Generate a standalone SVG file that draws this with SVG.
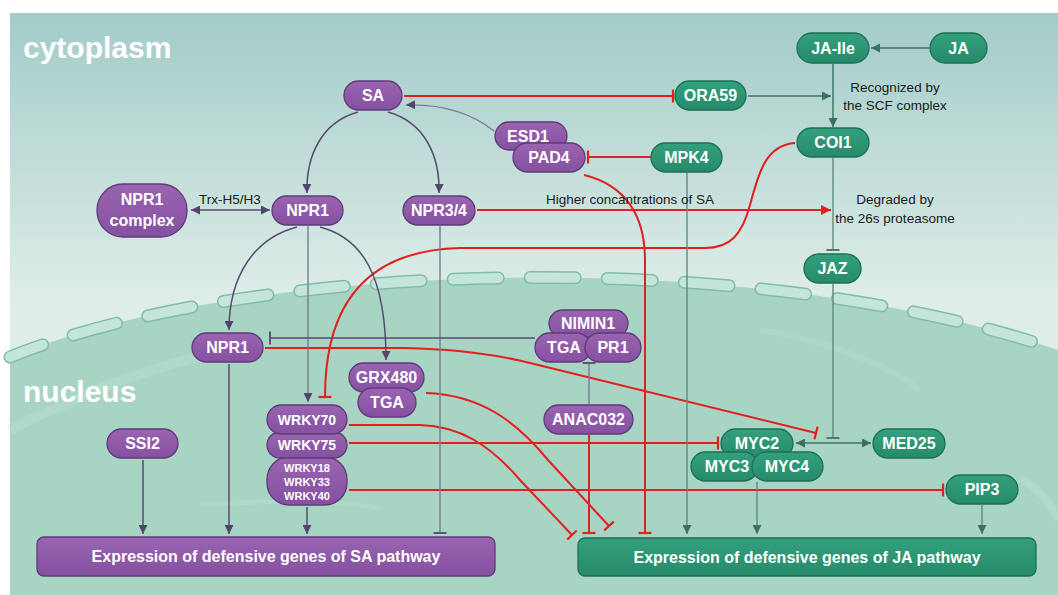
<svg xmlns="http://www.w3.org/2000/svg" width="1058" height="595" viewBox="0 0 1058 595">
<defs>
<linearGradient id="cyto" x1="0" y1="13" x2="0" y2="300" gradientUnits="userSpaceOnUse">
<stop offset="0" stop-color="#a3ccc8"/><stop offset="1" stop-color="#deede9"/>
</linearGradient>
<linearGradient id="gP" x1="0" y1="0" x2="0" y2="1">
<stop offset="0" stop-color="#9a64b1"/><stop offset="1" stop-color="#8450a0"/>
</linearGradient>
<linearGradient id="gG" x1="0" y1="0" x2="0" y2="1">
<stop offset="0" stop-color="#33a07e"/><stop offset="1" stop-color="#268a6b"/>
</linearGradient>
<marker id="aP" viewBox="0 0 10 10" refX="10" refY="5" markerWidth="9" markerHeight="9" markerUnits="userSpaceOnUse" orient="auto-start-reverse"><path d="M0,0 L10,5 L0,10 z" fill="#54446e"/></marker>
<marker id="aG" viewBox="0 0 10 10" refX="10" refY="5" markerWidth="9" markerHeight="9" markerUnits="userSpaceOnUse" orient="auto-start-reverse"><path d="M0,0 L10,5 L0,10 z" fill="#3b7163"/></marker>
<marker id="aR" viewBox="0 0 10 10" refX="10" refY="5" markerWidth="10" markerHeight="10" markerUnits="userSpaceOnUse" orient="auto"><path d="M0,0 L10,5 L0,10 z" fill="#e2201f"/></marker>
<marker id="tR" viewBox="-2 -8 4 16" refX="0" refY="0" markerWidth="4" markerHeight="16" markerUnits="userSpaceOnUse" orient="auto"><path d="M0,-6.5 V6.5" stroke="#e2201f" stroke-width="2.2"/></marker>
<marker id="tP" viewBox="-2 -8 4 16" refX="0" refY="0" markerWidth="4" markerHeight="16" markerUnits="userSpaceOnUse" orient="auto"><path d="M0,-6.5 V6.5" stroke="#5e5478" stroke-width="2"/></marker>
<marker id="tG" viewBox="-2 -8 4 16" refX="0" refY="0" markerWidth="4" markerHeight="16" markerUnits="userSpaceOnUse" orient="auto"><path d="M0,-6.5 V6.5" stroke="#4c7a6e" stroke-width="2"/></marker>
</defs>
<style>
.np{fill:url(#gP);stroke:#5f3a78;stroke-width:1.3}
.ng{fill:url(#gG);stroke:#1d6f56;stroke-width:1.3}
.bar{stroke-width:1.3}
.t{font-family:"Liberation Sans",Arial,sans-serif;font-weight:bold;fill:#ffffff;text-anchor:middle;font-size:16px}
.ts{font-size:14px}
.tx{font-size:11px}
.lb{font-family:"Liberation Sans",Arial,sans-serif;fill:#1a1a1a;font-size:13.5px;text-anchor:middle}
.big{font-family:"Liberation Sans",Arial,sans-serif;font-weight:bold;fill:#ffffff;font-size:30px}
.r{fill:none;stroke:#e2201f;stroke-width:2}
.p{fill:none;stroke:#584a73;stroke-width:1.5}
.pl{fill:none;stroke:#7d7a94;stroke-width:1.4}
.g{fill:none;stroke:#3f7467;stroke-width:1.5}
.gl{fill:none;stroke:#5f8a80;stroke-width:1.4}
</style>

<!-- background -->
<rect x="0" y="0" width="1058" height="595" fill="#ffffff"/>
<rect x="10" y="13" width="1048" height="582" fill="url(#cyto)"/>
<path d="M10 357 C250 260 750 245 1058 350 L1058 595 L10 595 Z" fill="#a8d4c4"/>
<path d="M10 430 C80 395 150 365 230 350" fill="none" stroke="#b9ddd0" stroke-width="10" opacity="0.5"/>
<path d="M200 505 C260 500 330 500 380 508" fill="none" stroke="#b9ddd0" stroke-width="5" opacity="0.5"/>
<path d="M1020 478 C1040 490 1052 505 1058 520" fill="none" stroke="#b9ddd0" stroke-width="8" opacity="0.6"/>
<path d="M760 330 C820 340 880 360 920 390" fill="none" stroke="#b6dccf" stroke-width="6" opacity="0.4"/>
<path d="M10 357 C250 260 750 245 1058 350" fill="none" stroke="#80bca9" stroke-width="13" stroke-linecap="round" stroke-dasharray="45 32" stroke-dashoffset="10"/>
<path d="M10 357 C250 260 750 245 1058 350" fill="none" stroke="#c4e5da" stroke-width="10" stroke-linecap="round" stroke-dasharray="45 32" stroke-dashoffset="10"/>

<text class="big" x="23" y="58">cytoplasm</text>
<text class="big" x="23" y="402">nucleus</text>

<!-- connectors -->
<g id="connectors">
<path class="r" d="M404 96 H673" marker-end="url(#tR)"/>
<path class="r" d="M477 210 H831" marker-end="url(#aR)"/>
<path class="r" d="M651 157 H588" marker-end="url(#tR)"/>
<path class="r" d="M584 175 C625 185 645 215 645 260 V533" marker-end="url(#tR)"/>
<path class="r" d="M795 143 C765 145 758 175 750 205 C742 235 730 248 705 248 H460 C380 250 325 290 325 397" marker-end="url(#tR)"/>
<path class="r" d="M265 348 H405 C450 349 490 353 530 363 L816 433" marker-end="url(#tR)"/>
<path class="r" d="M426 393 C480 395 515 420 548 460 L609 526" marker-end="url(#tR)"/>
<path class="r" d="M349 425 H420 C460 426 490 445 520 480 L572 535" marker-end="url(#tR)"/>
<path class="r" d="M349 443 H718" marker-end="url(#tR)"/>
<path class="r" d="M349 490 H943" marker-end="url(#tR)"/>
<path class="r" d="M589 435 V533" marker-end="url(#tR)"/>

<path class="p" d="M358 112 C322 122 306 155 307 193" marker-end="url(#aP)"/>
<path class="p" d="M388 112 C424 122 440 155 439 193" marker-end="url(#aP)"/>
<path class="p" d="M191 210 H270" marker-start="url(#aP)" marker-end="url(#aP)"/>
<path class="pl" d="M494 131 C470 112 440 104 406 105" marker-end="url(#aP)"/>
<path class="p" d="M297 227 C255 238 229 275 229 330" marker-end="url(#aP)"/>
<path class="pl" d="M308 226 V402" marker-end="url(#aP)"/>
<path class="p" d="M320 227 C362 238 386 275 386 360" marker-end="url(#aP)"/>
<path class="pl" d="M440 226 V533" marker-end="url(#tP)"/>
<path class="p" d="M535 338 H270" marker-end="url(#tP)"/>
<path class="pl" d="M589 404 V363" marker-end="url(#tP)"/>
<path class="p" d="M143 460 V534" marker-end="url(#aP)"/>
<path class="p" d="M229 364 V534" marker-end="url(#aP)"/>
<path class="p" d="M307 507 V534" marker-end="url(#aP)"/>

<path class="g" d="M929 48 H871" marker-end="url(#aG)"/>
<path class="g" d="M833 64 V127" marker-end="url(#aG)"/>
<path class="g" d="M748 96 H831" marker-end="url(#aG)"/>
<path class="gl" d="M833 158 V250" marker-end="url(#tG)"/>
<path class="gl" d="M833 284 V438" marker-end="url(#tG)"/>
<path class="g" d="M796 443 H871" marker-start="url(#aG)" marker-end="url(#aG)"/>
<path class="gl" d="M687 173 V534" marker-end="url(#aG)"/>
<path class="gl" d="M757 482 V534" marker-end="url(#aG)"/>
<path class="gl" d="M982 505 V534" marker-end="url(#aG)"/>
</g>

<!-- text labels -->
<g id="labels">
<text class="lb" x="230" y="204">Trx-H5/H3</text>
<text class="lb" x="630" y="204">Higher concantrations of SA</text>
<text class="lb" x="895" y="92">Recognized by</text>
<text class="lb" x="895" y="110">the SCF complex</text>
<text class="lb" x="895" y="204">Degraded by</text>
<text class="lb" x="895" y="223">the 26s proteasome</text>
</g>

<!-- purple nodes -->
<g id="SA"><rect class="np" x="344" y="81" width="58" height="29" rx="14.5"/><text class="t" x="373" y="101">SA</text></g>
<g id="NPR1-complex"><rect class="np" x="97" y="184" width="90" height="53" rx="26"/><text class="t" x="142" y="205">NPR1</text><text class="t" x="142" y="226">complex</text></g>
<g id="NPR1-cyto"><rect class="np" x="272" y="196" width="71" height="29" rx="14.5"/><text class="t" x="307.5" y="216">NPR1</text></g>
<g id="NPR34"><rect class="np" x="403" y="196" width="72" height="29" rx="14.5"/><text class="t" x="439" y="216">NPR3/4</text></g>
<g id="ESD1"><rect class="np" x="495" y="122" width="72" height="28" rx="14"/><text class="t" x="528" y="142">ESD1</text></g>
<g id="PAD4"><rect class="np" x="513" y="143" width="72" height="29" rx="14.5"/><text class="t" x="549" y="163">PAD4</text></g>
<g id="NPR1-nuc"><rect class="np" x="192" y="333" width="71" height="29" rx="14.5"/><text class="t" x="227.5" y="353">NPR1</text></g>
<g id="SSI2"><rect class="np" x="107" y="429" width="71" height="29" rx="14.5"/><text class="t" x="142.5" y="449">SSI2</text></g>
<g id="GRX480-TGA"><rect class="np" x="349" y="363" width="75" height="29" rx="14.5"/><text class="t" x="386.5" y="383">GRX480</text>
<rect class="np" x="358" y="388" width="58" height="29" rx="14.5"/><text class="t" x="387" y="408">TGA</text></g>
<g id="WRKY"><rect class="np" x="267" y="457" width="80" height="48" rx="22"/><text class="t tx" x="307" y="472">WRKY18</text><text class="t tx" x="307" y="486">WRKY33</text><text class="t tx" x="307" y="500">WRKY40</text>
<rect class="np" x="267" y="432" width="80" height="26" rx="13"/><text class="t ts" x="307" y="450">WRKY75</text>
<rect class="np" x="267" y="405" width="80" height="29" rx="14.5"/><text class="t ts" x="307" y="425">WRKY70</text></g>
<g id="NIMIN1-TGA-PR1"><rect class="np" x="549" y="310" width="79" height="27" rx="13.5"/><text class="t" x="588" y="329">NIMIN1</text>
<rect class="np" x="535" y="333" width="56" height="29" rx="14.5"/><text class="t" x="564" y="353">TGA</text>
<rect class="np" x="585" y="333" width="56" height="29" rx="14.5"/><text class="t" x="613" y="353">PR1</text></g>
<g id="ANAC032"><rect class="np" x="544" y="405" width="89" height="29" rx="14.5"/><text class="t" x="588.5" y="425">ANAC032</text></g>
<g id="SA-genes"><rect class="np bar" x="37" y="537" width="458" height="39" rx="7"/><text class="t" x="266" y="562">Expression of defensive genes of SA pathway</text></g>

<!-- green nodes -->
<g id="JA-Ile"><rect class="ng" x="797" y="33" width="72" height="30" rx="15"/><text class="t" x="833" y="54">JA-Ile</text></g>
<g id="JA"><rect class="ng" x="930" y="33" width="57" height="30" rx="15"/><text class="t" x="958.5" y="54">JA</text></g>
<g id="ORA59"><rect class="ng" x="675" y="81" width="71" height="29" rx="14.5"/><text class="t" x="710.5" y="101">ORA59</text></g>
<g id="MPK4"><rect class="ng" x="651" y="143" width="71" height="29" rx="14.5"/><text class="t" x="686.5" y="163">MPK4</text></g>
<g id="COI1"><rect class="ng" x="797" y="128" width="72" height="29" rx="14.5"/><text class="t" x="833" y="148">COI1</text></g>
<g id="JAZ"><rect class="ng" x="804" y="254" width="57" height="29" rx="14.5"/><text class="t" x="832.5" y="274">JAZ</text></g>
<g id="MYC"><rect class="ng" x="721" y="429" width="72" height="29" rx="14.5"/><text class="t" x="757" y="449">MYC2</text>
<rect class="ng" x="691" y="452" width="67" height="29" rx="14.5"/><text class="t" x="727" y="472">MYC3</text>
<rect class="ng" x="752" y="452" width="71" height="29" rx="14.5"/><text class="t" x="787" y="472">MYC4</text></g>
<g id="MED25"><rect class="ng" x="873" y="429" width="72" height="29" rx="14.5"/><text class="t" x="909" y="449">MED25</text></g>
<g id="PIP3"><rect class="ng" x="946" y="475" width="72" height="29" rx="14.5"/><text class="t" x="982" y="495">PIP3</text></g>
<g id="JA-genes"><rect class="ng bar" x="578" y="538" width="458" height="38" rx="7"/><text class="t" x="807" y="563">Expression of defensive genes of JA pathway</text></g>
</svg>
